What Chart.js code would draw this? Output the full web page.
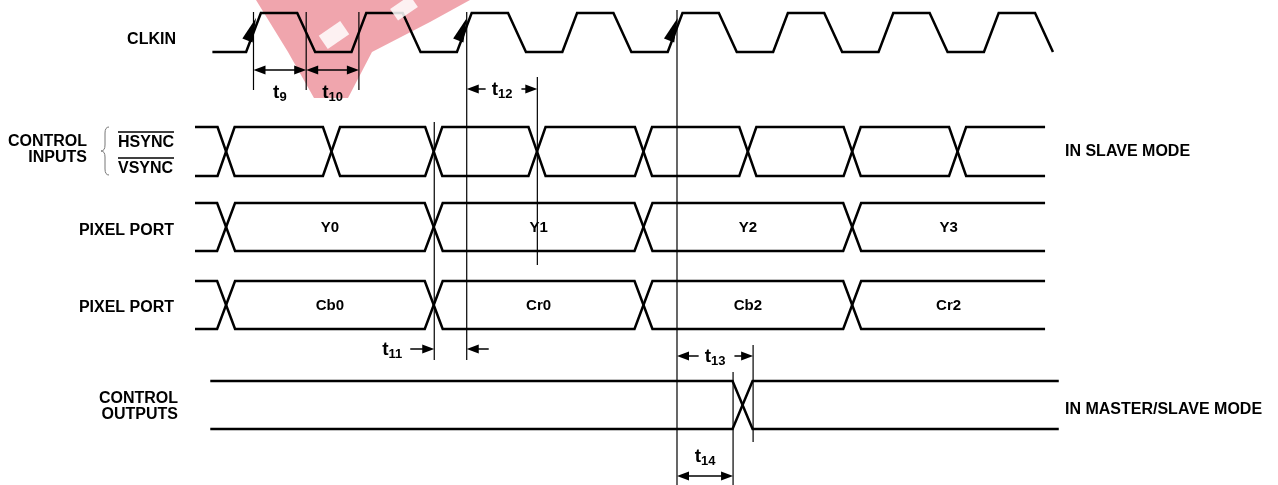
<!DOCTYPE html>
<html lang="en">
<head>
<meta charset="UTF-8">
<title>Pixel port timing</title>
<script src="https://cdn.jsdelivr.net/npm/chart.js"></script>
<style>
    body { margin: 0; background: #fff; }
</style>
</head>
<body>
<canvas id="timing" width="1278" height="485"></canvas>
<script>
// time axis is in CLKIN periods, 0 = first marked rising edge
var clkStart = -0.39;
var clkRise = [0, 1, 2, 3, 4, 5, 6, 7];
var clkFall = [0.5, 1.5, 2.5, 3.5, 4.5, 5.5, 6.5, 7.5];
var clkMarked = [0, 2, 4];

var syncEdges = [-0.26, 0.74, 1.71, 2.69, 3.70, 4.69, 5.68, 6.68];
var pixelEdges = [-0.26, 1.71, 3.70, 5.68];
var lumaWords = ['Y0', 'Y1', 'Y2', 'Y3'];
var chromaWords = ['Cb0', 'Cr0', 'Cb2', 'Cr2'];
var outEdges = [4.64];
var busStart = -0.555, busEnd = 7.51;
var outStart = -0.41, outEnd = 7.64;

var specNames = ['9', '10', '11', '12', '13', '14'];
var specFrom = [0, 0.5, 1.715, 2.023, 4.018, 4.018];
var specTo = [0.5, 1.0, 2.023, 2.693, 4.74, 4.55];

var refTimes = [0, 0.5, 1.0, 1.715, 2.023, 2.693, 4.018, 4.55, 4.74];

// ---- layout (y in picture units, 0 at top) ----
var X_MIN = -2.405, X_MAX = 9.72;
var lanes = {
    clk: { hi: 13, lo: 52 },
    sync: { hi: 127, lo: 176 },
    luma: { hi: 203, lo: 251 },
    chroma: { hi: 281, lo: 329 },
    out: { hi: 381, lo: 429 }
};
var refSpan = [[12, 90], [12, 90], [12, 90], [122, 360], [12, 360], [77, 265], [10, 485], [372, 485], [345, 442]];
// arrow y, style, label centre y
var specLayout = [
    { y: 70, kind: 'full', ly: 91 },
    { y: 70, kind: 'full', ly: 91 },
    { y: 349, kind: 'outside', ly: 348 },
    { y: 89, kind: 'gap', ly: 88 },
    { y: 356, kind: 'gap', ly: 355 },
    { y: 476, kind: 'full', ly: 455 }
];
var FONT = '"Liberation Sans", Arial, Helvetica, sans-serif';

function clockPoints() {
    var lane = lanes.clk;
    var pts = [{ x: clkStart, y: lane.lo }];
    clkRise.forEach(function(r, i) {
        pts.push({ x: r - 0.07, y: lane.lo }, { x: r + 0.07, y: lane.hi });
        pts.push({ x: clkFall[i] - 0.085, y: lane.hi }, { x: clkFall[i] + 0.085, y: lane.lo });
    });
    return pts;
}

function busPoints(lane, edges, start, end, half, high) {
    var lvl = high;
    var pts = [{ x: start, y: lvl ? lane.hi : lane.lo }];
    edges.forEach(function(e) {
        pts.push({ x: e - half, y: lvl ? lane.hi : lane.lo });
        lvl = !lvl;
        pts.push({ x: e + half, y: lvl ? lane.hi : lane.lo });
    });
    pts.push({ x: end, y: lvl ? lane.hi : lane.lo });
    return pts;
}

function wave(points) {
    return { data: points, showLine: true, fill: false, borderColor: '#000', borderWidth: 2.5, pointRadius: 0, borderJoinStyle: 'miter' };
}

var datasets = [
    wave(clockPoints()),
    wave(busPoints(lanes.sync, syncEdges, busStart, busEnd, 0.081, true)),
    wave(busPoints(lanes.sync, syncEdges, busStart, busEnd, 0.081, false)),
    wave(busPoints(lanes.luma, pixelEdges, busStart, busEnd, 0.085, true)),
    wave(busPoints(lanes.luma, pixelEdges, busStart, busEnd, 0.085, false)),
    wave(busPoints(lanes.chroma, pixelEdges, busStart, busEnd, 0.085, true)),
    wave(busPoints(lanes.chroma, pixelEdges, busStart, busEnd, 0.085, false)),
    wave(busPoints(lanes.out, outEdges, outStart, outEnd, 0.095, true)),
    wave(busPoints(lanes.out, outEdges, outStart, outEnd, 0.095, false))
];

function head(ctx, x, y, dir) {
    ctx.beginPath();
    ctx.moveTo(x, y);
    ctx.lineTo(x - dir * 12, y - 4.5);
    ctx.lineTo(x - dir * 12, y + 4.5);
    ctx.closePath();
    ctx.fill();
}

function hline(ctx, x0, x1, y) {
    ctx.beginPath();
    ctx.moveTo(x0, y);
    ctx.lineTo(x1, y);
    ctx.stroke();
}

function tLabel(ctx, x, y, sub, align) {
    ctx.font = 'bold 19px ' + FONT;
    var wt = ctx.measureText('t').width;
    ctx.font = 'bold 13px ' + FONT;
    var ws = ctx.measureText(sub).width;
    var left = align === 'right' ? x - wt - ws : x - (wt + ws) / 2;
    ctx.textAlign = 'left';
    ctx.textBaseline = 'alphabetic';
    ctx.font = 'bold 19px ' + FONT;
    ctx.fillText('t', left, y + 7);
    ctx.font = 'bold 13px ' + FONT;
    ctx.fillText(sub, left + wt, y + 10);
    return wt + ws;
}

function text(ctx, s, x, y, align, size) {
    ctx.font = 'bold ' + (size || 16) + 'px ' + FONT;
    ctx.textAlign = align;
    ctx.textBaseline = 'middle';
    ctx.fillText(s, x, y);
}

// faint red stamp sitting over the top left of the picture
function stamp(ctx) {
    ctx.save();
    ctx.globalCompositeOperation = 'multiply';
    ctx.fillStyle = 'rgba(220, 40, 60, 0.42)';
    ctx.beginPath();
    ctx.moveTo(256, 0);
    ctx.lineTo(470, 0);
    ctx.lineTo(430, 22);
    ctx.lineTo(372, 52);
    ctx.lineTo(348, 98);
    ctx.lineTo(314, 98);
    ctx.lineTo(288, 52);
    ctx.closePath();
    ctx.fill();
    ctx.restore();
    ctx.save();
    ctx.fillStyle = 'rgba(255, 255, 255, 0.85)';
    ctx.translate(334, 35);
    ctx.rotate(-0.6);
    ctx.fillRect(-13, -8, 26, 16);
    ctx.restore();
    ctx.save();
    ctx.fillStyle = 'rgba(255, 255, 255, 0.85)';
    ctx.translate(404, 8);
    ctx.rotate(-0.6);
    ctx.fillRect(-12, -7, 24, 14);
    ctx.restore();
}

var overlay = {
    id: 'overlay',
    afterDatasetsDraw: function(chart) {
        var ctx = chart.ctx, xs = chart.scales.x, ys = chart.scales.y;
        var px = function(t) { return xs.getPixelForValue(t); };
        var py = function(v) { return ys.getPixelForValue(v); };
        ctx.save();
        ctx.fillStyle = '#000';
        ctx.strokeStyle = '#000';

        // reference lines
        ctx.lineWidth = 1.2;
        refTimes.forEach(function(t, i) {
            var x = px(t);
            ctx.beginPath();
            ctx.moveTo(x, py(refSpan[i][0]));
            ctx.lineTo(x, py(refSpan[i][1]));
            ctx.stroke();
        });

        // arrows on marked clock edges
        clkMarked.forEach(function(k) {
            var x0 = px(k - 0.07), x1 = px(k + 0.07);
            var y0 = py(lanes.clk.lo), y1 = py(lanes.clk.hi);
            var len = Math.hypot(x1 - x0, y1 - y0);
            var ux = (x1 - x0) / len, uy = (y1 - y0) / len;
            var tx = px(k) + 2.5, ty = py(lanes.clk.hi) + 5;
            var bx = tx - ux * 24, by = ty - uy * 24;
            ctx.beginPath();
            ctx.moveTo(tx, ty);
            ctx.lineTo(bx - uy * 5.5, by + ux * 5.5);
            ctx.lineTo(bx + uy * 5.5, by - ux * 5.5);
            ctx.closePath();
            ctx.fill();
        });

        // timing specs
        ctx.lineWidth = 1.5;
        specNames.forEach(function(n, i) {
            var a = px(specFrom[i]), b = px(specTo[i]), L = specLayout[i];
            var y = py(L.y), mid = (a + b) / 2;
            if (L.kind === 'full') {
                hline(ctx, a + 4, b - 4, y);
                head(ctx, a, y, -1);
                head(ctx, b, y, 1);
                tLabel(ctx, mid, py(L.ly), n);
            } else if (L.kind === 'gap') {
                var w = tLabel(ctx, mid, py(L.ly), n);
                hline(ctx, a + 4, mid - w / 2 - 6, y);
                hline(ctx, mid + w / 2 + 9, b - 4, y);
                head(ctx, a, y, -1);
                head(ctx, b, y, 1);
            } else {
                hline(ctx, a - 24, a - 4, y);
                head(ctx, a, y, 1);
                hline(ctx, b + 4, b + 22, y);
                head(ctx, b, y, -1);
                tLabel(ctx, a - 32, py(L.ly), n, 'right');
            }
        });

        // words inside the pixel port lanes
        pixelEdges.forEach(function(e, i) {
            var next = i + 1 < pixelEdges.length ? pixelEdges[i + 1] : busEnd;
            var mx = px((e + next) / 2);
            text(ctx, lumaWords[i], mx, py((lanes.luma.hi + lanes.luma.lo) / 2) + 1, 'center', 15);
            text(ctx, chromaWords[i], mx, py((lanes.chroma.hi + lanes.chroma.lo) / 2) + 1, 'center', 15);
        });

        // signal names
        text(ctx, 'CLKIN', 176, 40, 'right');
        text(ctx, 'CONTROL', 87, 142, 'right');
        text(ctx, 'INPUTS', 87, 158, 'right');
        text(ctx, 'HSYNC', 118, 143, 'left');
        text(ctx, 'VSYNC', 118, 169, 'left');
        ctx.lineWidth = 1.5;
        hline(ctx, 118, 174, 132);
        hline(ctx, 118, 174, 158);
        text(ctx, 'PIXEL PORT', 174, 231, 'right');
        text(ctx, 'PIXEL PORT', 174, 308, 'right');
        text(ctx, 'CONTROL', 178, 399, 'right');
        text(ctx, 'OUTPUTS', 178, 415, 'right');
        text(ctx, 'IN SLAVE MODE', 1065, 152, 'left');
        text(ctx, 'IN MASTER/SLAVE MODE', 1065, 410, 'left');

        // brace
        ctx.strokeStyle = '#777';
        ctx.lineWidth = 1;
        ctx.beginPath();
        ctx.moveTo(109, 127);
        ctx.quadraticCurveTo(105, 127, 105, 133);
        ctx.lineTo(105, 145);
        ctx.quadraticCurveTo(105, 151, 101, 151);
        ctx.quadraticCurveTo(105, 151, 105, 157);
        ctx.lineTo(105, 169);
        ctx.quadraticCurveTo(105, 175, 109, 175);
        ctx.stroke();
        ctx.restore();

        stamp(ctx);
    }
};

new Chart(document.getElementById('timing'), {
    type: 'scatter',
    data: { datasets: datasets },
    options: {
        responsive: false,
        animation: false,
        events: [],
        layout: { padding: 0 },
        plugins: { legend: { display: false }, tooltip: { enabled: false } },
        scales: {
            x: { type: 'linear', min: X_MIN, max: X_MAX, display: false },
            y: { type: 'linear', min: 0, max: 485, reverse: true, display: false }
        }
    },
    plugins: [overlay]
});
</script>
</body>
</html>
